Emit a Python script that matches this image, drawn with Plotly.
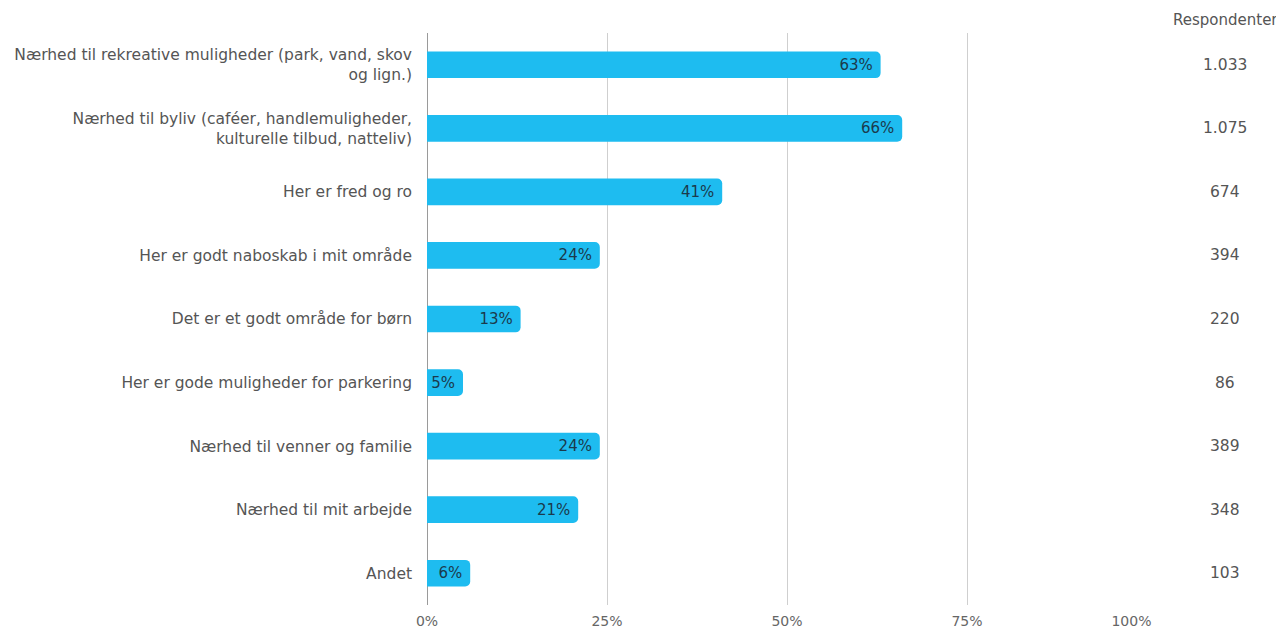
import plotly.graph_objects as go

categories = [
    "Nærhed til rekreative muligheder (park, vand, skov<br>og lign.)",
    "Nærhed til byliv (caféer, handlemuligheder,<br>kulturelle tilbud, natteliv)",
    "Her er fred og ro",
    "Her er godt naboskab i mit område",
    "Det er et godt område for børn",
    "Her er gode muligheder for parkering",
    "Nærhed til venner og familie",
    "Nærhed til mit arbejde",
    "Andet",
]
percent = [63, 66, 41, 24, 13, 5, 24, 21, 6]
respondents = ["1.033", "1.075", "674", "394", "220", "86", "389", "348", "103"]
tick_vals = [0, 25, 50, 75, 100]
tick_text = ["0%", "25%", "50%", "75%", "100%" + "\u00a0" * 7]

FONT = "DejaVu Sans, Verdana, sans-serif"

# page offset: browser body margin of 8px
OFF = 8
PLOT_L, PLOT_R, PLOT_T, PLOT_B = 427 - OFF, 1147 - OFF, 33 - OFF, 605 - OFF
W, H = 1284 - OFF, 630 - OFF
plot_w = PLOT_R - PLOT_L
plot_h = PLOT_B - PLOT_T

fig = go.Figure()
fig.add_trace(go.Bar(
    x=percent,
    y=categories,
    orientation="h",
    width=0.42,
    marker=dict(color="#1EBCF0", cornerradius=5, line=dict(width=0)),
    text=[f"{v}%\u00a0" for v in percent],
    textposition="inside",
    insidetextanchor="end",
    textfont=dict(family=FONT, size=15, color="#1b3a4c"),
    constraintext="none",
    cliponaxis=False,
    hoverinfo="skip",
))

col_x = (1225 - OFF - PLOT_L) / plot_w
for cat, r in zip(categories, respondents):
    fig.add_annotation(
        x=col_x, xref="paper", y=cat, yref="y",
        text=r, showarrow=False, xanchor="center",
        font=dict(family=FONT, size=15.5, color="#555555"),
    )

fig.add_annotation(
    x=(1225 - OFF - PLOT_L) / plot_w, xref="paper",
    y=1 + (PLOT_T - (20 - OFF)) / plot_h, yref="paper", yanchor="middle",
    text="Respondenter", showarrow=False, xanchor="center",
    font=dict(family=FONT, size=15, color="#555555"),
)

fig.update_layout(
    width=W, height=H,
    margin=dict(l=PLOT_L, r=W - PLOT_R, t=PLOT_T, b=H - PLOT_B, autoexpand=False),
    paper_bgcolor="white", plot_bgcolor="white",
    showlegend=False,
    font=dict(family=FONT, color="#555555"),
    xaxis=dict(
        range=[0, 100],
        tickvals=tick_vals, ticktext=tick_text,
        showgrid=True, gridcolor="#cfcfcf", gridwidth=1,
        zeroline=True, zerolinecolor="#9a9a9a", zerolinewidth=1,
        ticks="", tickfont=dict(family=FONT, size=14, color="#666666"),
        ticklabelstandoff=6,
        automargin=False,
        fixedrange=True,
    ),
    yaxis=dict(
        categoryorder="array", categoryarray=categories,
        autorange="reversed",
        ticks="", showgrid=False, zeroline=False,
        tickfont=dict(family=FONT, size=15.5, color="#555555"),
        ticklabelstandoff=14,
        automargin=False,
    ),
)

fig.write_html("out.html")
